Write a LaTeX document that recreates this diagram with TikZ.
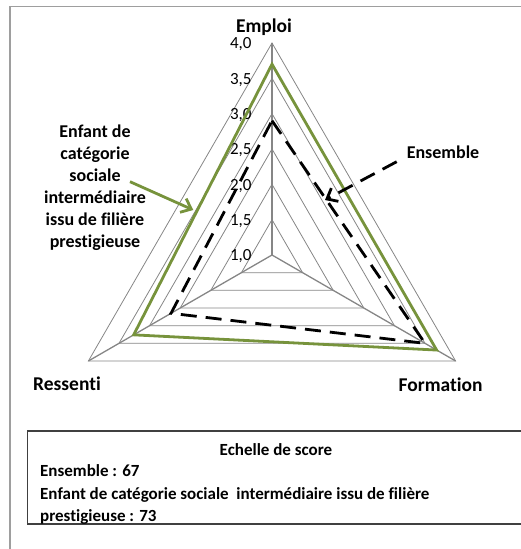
\documentclass[tikz,border=0pt]{standalone}
\usepackage{fontspec}
\setmainfont{Carlito}[Ligatures=NoCommon]
\usetikzlibrary{arrows.meta}
\definecolor{olive_green}{RGB}{119,147,60}
\definecolor{grid_gray}{RGB}{134,134,134}

\begin{document}
\begin{tikzpicture}[
    x=1pt, y=1pt,
    grid_style/.style={grid_gray, line width=0.8pt},
    axis_style/.style={grid_gray, line width=1.3pt},
    enfant_style/.style={olive_green, line width=2.8pt},
    ensemble_style/.style={black, line width=2.8pt, dash pattern=on 16pt off 9pt},
    tip_style/.style={-{Straight Barb[length=9pt, width=15pt, line width=2.8pt]}},
    axis_label/.style={font=\bfseries\fontsize{19.5}{22}\selectfont, inner sep=0pt},
    label_style/.style={font=\bfseries\fontsize{18}{22}\selectfont, inner sep=0pt},
    legend_style/.style={font=\bfseries\fontsize{17}{22}\selectfont, inner sep=0pt},
    tick_style/.style={font=\fontsize{17}{19}\selectfont, anchor=east, inner sep=0pt}
]

    \useasboundingbox (0,0) rectangle (520,549);

    % Frame
    \draw[grid_gray!80, line width=1.4pt] (10,-2) -- (10,542.7) -- (523,542.7);

    \coordinate (center) at (272,294);

    \begin{scope}[shift={(center)}, x=70.67pt, y=70.67pt]
        % Rings
        \foreach \v in {1.5,2,...,4} {
            \draw[grid_style] (90:{\v-1}) -- (-30:{\v-1}) -- (210:{\v-1}) -- cycle;
        }

        % Axes
        \coordinate (emploi_end) at (90:3);
        \coordinate (formation_end) at (-30:3);
        \coordinate (ressenti_end) at (210:3);
        \draw[axis_style] (0,0) -- (emploi_end);
        \draw[axis_style] (0,0) -- (formation_end);
        \draw[axis_style] (0,0) -- (ressenti_end);

        % Tick labels
        \foreach \v in {1.0,1.5,...,4.0} {
            \node[tick_style] (tick_\v) at (-0.287, {\v-1.02})
                {\pgfmathprintnumber[fixed, fixed zerofill, precision=1, use comma, assume math mode=true]{\v}};
        }

        % Series
        \draw[ensemble_style] (90:1.9) -- (-30:2.5) -- (210:1.65) -- cycle;
        \draw[enfant_style] (90:2.7) -- (-30:2.69) -- (210:2.26) -- cycle;
    \end{scope}

    % Axis labels
    \node[axis_label, anchor=base] (emploi) at (264,516.7) {Emploi};
    \node[axis_label, anchor=base] (ressenti) at (67,158.3) {Ressenti};
    \node[axis_label, anchor=base] (formation) at (440.7,157.3) {Formation};

    % Series labels
    \node[label_style, align=center] (enfant) at (95,361)
        {Enfant de\\catégorie\\sociale\\intermédiaire\\issu de filière\\prestigieuse};
    \node[label_style, anchor=base] (ensemble) at (443,390.7) {Ensemble};

    \coordinate (enfant_tail) at (130,367.3);
    \coordinate (enfant_tip) at (193.3,339);
    \coordinate (ensemble_tail) at (396.7,387.3);
    \coordinate (ensemble_tip) at (325,349);
    \draw[enfant_style, tip_style] (enfant_tail) -- (enfant_tip);
    \draw[ensemble_style, tip_style] (ensemble_tail) -- (ensemble_tip);

    % Legend
    \draw[black!75, line width=1.2pt] (27.7,25) rectangle (523,118);
    \node[legend_style, anchor=base] (legend_title) at (276,93) {Echelle de score};
    \node[legend_style, anchor=base west] (legend_ensemble) at (40,72.3) {Ensemble : 67};
    \node[legend_style, anchor=base west, text width=412pt, align=justify] (legend_enfant) at (40,49.7)
        {Enfant de catégorie sociale \ intermédiaire issu de filière};
    \node[legend_style, anchor=base west] (legend_enfant_end) at (40,27.3) {prestigieuse : 73};

\end{tikzpicture}
\end{document}
